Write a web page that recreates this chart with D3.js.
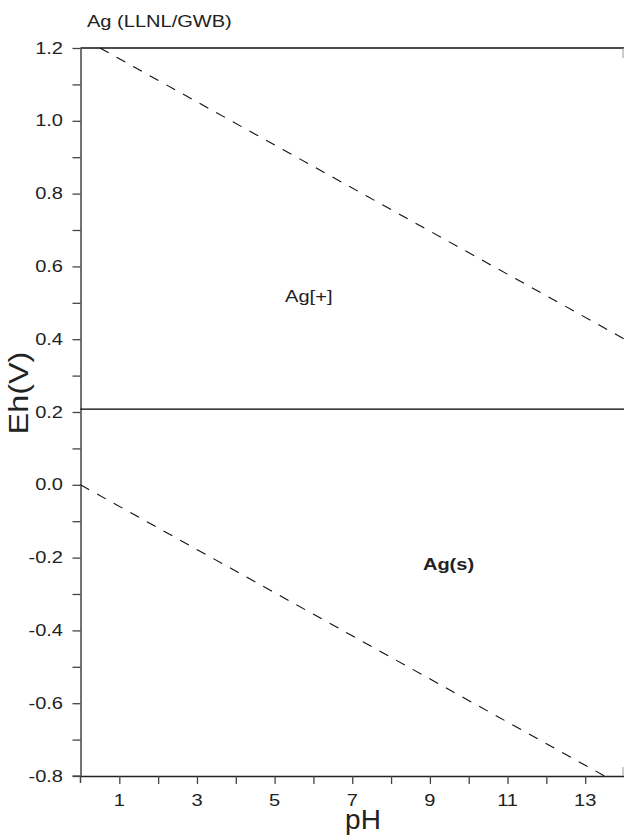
<!DOCTYPE html>
<html>
<head>
<meta charset="utf-8">
<script src="https://cdn.jsdelivr.net/npm/d3@7"></script>
<style>
html,body{margin:0;padding:0;background:#fff;}
text{font-family:"Liberation Sans",Arial,Helvetica,sans-serif;fill:#222;}
</style>
</head>
<body>
<svg id="chart" width="624" height="837"></svg>
<script>
// ---- data ----
const title = "Ag (LLNL/GWB)";
const xLabel = "pH";
const yLabel = "Eh(V)";
const xDomain = [0, 14];
const yDomain = [-0.8, 1.2];
const xMajor = [1, 3, 5, 7, 9, 11, 13];
const xMinor = [2, 4, 6, 8, 10, 12];
const yMajor = [-0.8, -0.6, -0.4, -0.2, 0.0, 0.2, 0.4, 0.6, 0.8, 1.0, 1.2];
const yMinor = [-0.7, -0.5, -0.3, -0.1, 0.1, 0.3, 0.5, 0.7, 0.9, 1.1];
// boundary Ag+/Ag(s)
const boundaryLine = [[0, 0.208], [14, 0.208]];
// water stability lines (dashed)
const waterUpper = [[0.5, 1.2], [14, 0.401]];
const waterLower = [[0, 0.0], [13.5, -0.8]];
const fieldLabels = [
  {text: "Ag[+]", pH: 5.27, eh: 0.502, bold: false},
  {text: "Ag(s)", pH: 8.82, eh: -0.234, bold: true}
];

// ---- layout ----
const svg = d3.select("#chart");
const x = d3.scaleLinear().domain(xDomain).range([80.5, 624]);
const y = d3.scaleLinear().domain(yDomain).range([776, 48]);
const SX = 1.18; // horizontal text stretch of reference
const axisColor = "#444";

const line = d3.line().x(d => x(d[0])).y(d => y(d[1]));

// top frame line
svg.append("line")
  .attr("x1", x(0)).attr("x2", x(14))
  .attr("y1", y(1.2)).attr("y2", y(1.2))
  .attr("stroke", "#111").attr("stroke-width", 1.5);

// Axes
function styleAxis(g) {
  g.selectAll("path").attr("stroke", axisColor).attr("stroke-width", 1.5);
  g.selectAll("line").attr("stroke", axisColor).attr("stroke-width", 1.3);
  g.selectAll("text").remove();
}
svg.append("g").attr("transform", `translate(${x(0)},0)`)
  .call(d3.axisLeft(y).tickValues(yMajor.concat(yMinor)).tickSize(8).tickSizeOuter(0).tickFormat(""))
  .call(styleAxis);
svg.append("g").attr("transform", `translate(0,${y(-0.8)})`)
  .call(d3.axisBottom(x).tickValues(xMajor.concat(xMinor)).tickSize(8).tickSizeOuter(0).tickFormat(""))
  .call(g => { styleAxis(g); g.selectAll("path").attr("stroke", "#222"); });

// extend axes slightly past the corner like the reference
svg.append("line").attr("x1", x(0)).attr("x2", x(0)).attr("y1", y(-0.8)).attr("y2", y(-0.8) + 7)
  .attr("stroke", axisColor).attr("stroke-width", 1.5);
svg.append("line").attr("x1", x(0) - 8).attr("x2", x(0)).attr("y1", y(-0.8)).attr("y2", y(-0.8))
  .attr("stroke", axisColor).attr("stroke-width", 1.3);
// small right-frame remnants
svg.append("line").attr("x1", x(14) - 1).attr("x2", x(14) - 1).attr("y1", y(1.2)).attr("y2", y(1.2) + 10)
  .attr("stroke", "#999").attr("stroke-width", 1);
svg.append("line").attr("x1", x(14) - 1).attr("x2", x(14) - 1).attr("y1", y(-0.8) - 9).attr("y2", y(-0.8))
  .attr("stroke", "#999").attr("stroke-width", 1);

// tick labels
svg.append("g").selectAll("text").data(yMajor).join("text")
  .attr("transform", d => `translate(63,${y(d) + 5.5}) scale(${SX},1)`)
  .attr("text-anchor", "end").attr("font-size", 17)
  .text(d => d.toFixed(1));
svg.append("g").selectAll("text").data(xMajor).join("text")
  .attr("transform", d => `translate(${x(d)},806) scale(${SX},1)`)
  .attr("text-anchor", "middle").attr("font-size", 17)
  .text(d => String(d));

// lines
svg.append("path").datum(boundaryLine).attr("d", line)
  .attr("fill", "none").attr("stroke", "#000").attr("stroke-width", 1.4);
[waterUpper, waterLower].forEach(dat => {
  svg.append("path").datum(dat).attr("d", line)
    .attr("fill", "none").attr("stroke", "#111").attr("stroke-width", 1.1)
    .attr("stroke-dasharray", "10,9");
});

// field labels
svg.append("g").selectAll("text").data(fieldLabels).join("text")
  .attr("transform", d => `translate(${x(d.pH)},${y(d.eh)}) scale(${SX},1)`)
  .attr("font-size", 17).attr("font-weight", d => d.bold ? "bold" : "normal")
  .attr("fill", "#111")
  .text(d => d.text);

// title
svg.append("text").attr("transform", `translate(87,27) scale(${SX},1)`)
  .attr("font-size", 17).text(title);

// axis titles
svg.append("text").attr("transform", `translate(363,829)`)
  .attr("text-anchor", "middle").attr("font-size", 28).text(xLabel);
svg.append("text").attr("transform", `translate(28,393) rotate(-90) scale(1.2,1)`)
  .attr("text-anchor", "middle").attr("font-size", 27).text(yLabel);
</script>
</body>
</html>
